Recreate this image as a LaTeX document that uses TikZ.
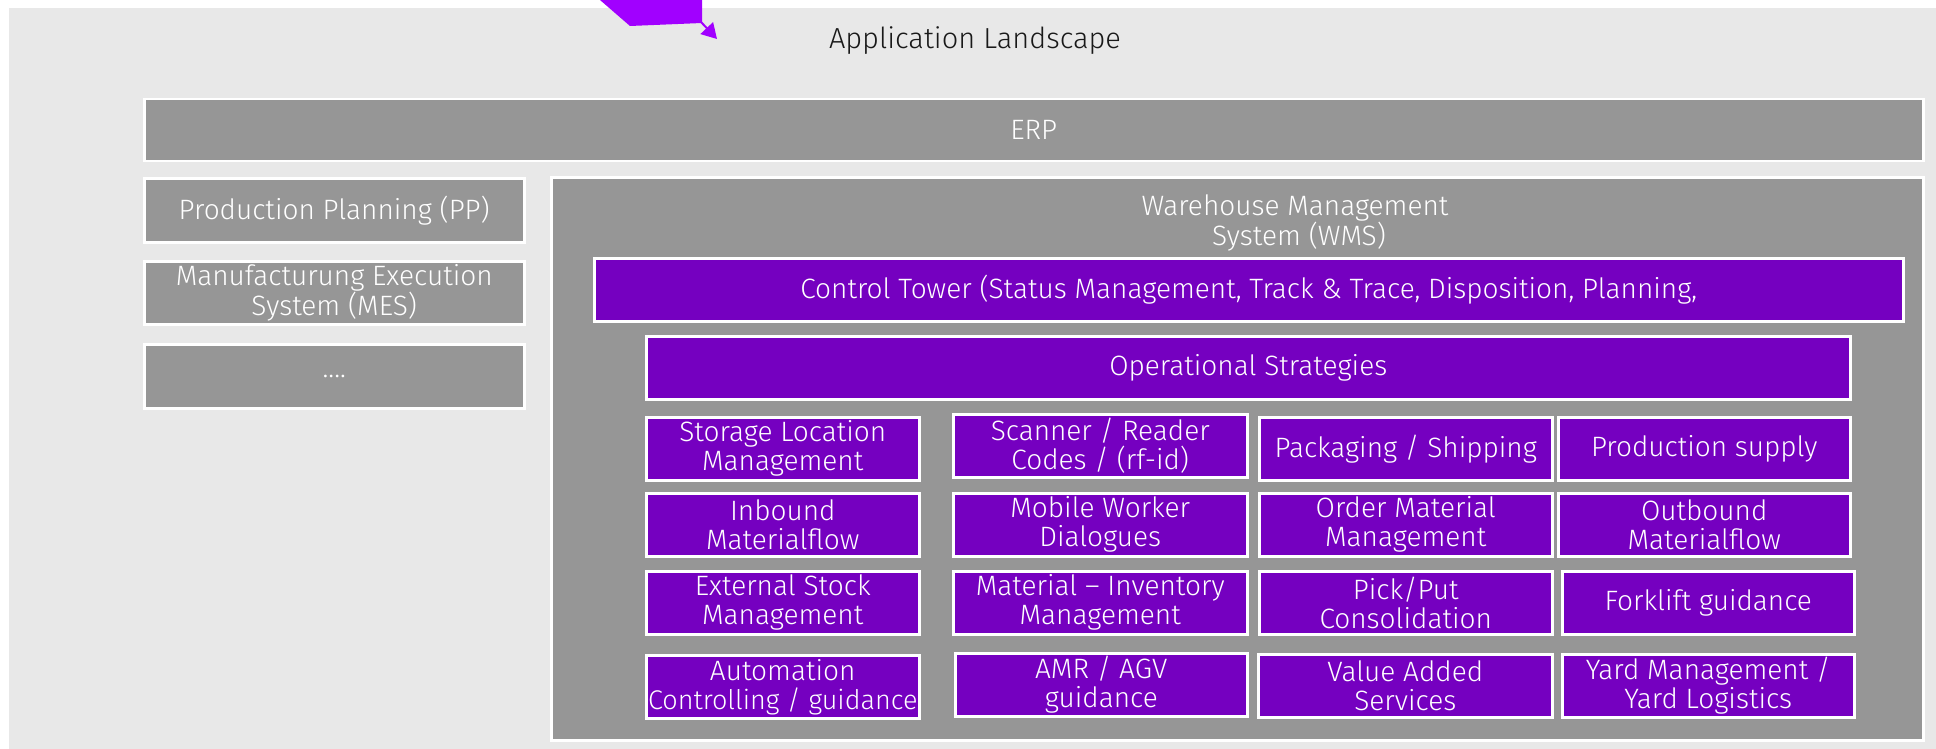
\documentclass[tikz,border=0pt]{standalone}
\usepackage{fontspec}
\setmainfont{Fira Sans Light}
\usetikzlibrary{arrows.meta,positioning}

\definecolor{landscape}{HTML}{E8E8E8}
\definecolor{sysgray}{HTML}{969696}
\definecolor{wmspurple}{HTML}{7500C0}
\definecolor{pointer}{HTML}{A100FF}

\begin{document}
\begin{tikzpicture}[x=1pt,y=-1pt,
  sysbox/.style={rectangle,fill=sysgray,draw=white,line width=2.5pt,
    text=white,align=center,inner sep=0pt,anchor=north west,
    font=\fontsize{28}{29}\selectfont},
  modbox/.style={sysbox,fill=wmspurple,minimum height=63pt},
  caption/.style={text=white,align=center,font=\fontsize{28}{29}\selectfont}]

  \useasboundingbox (0,0) rectangle (1936,749);
  \fill[landscape] (9,8) rectangle (1936,749);

  % pointer coming in from the top
  \fill[pointer] (600,0) -- (630,26) -- (702,23) -- (702,0) -- cycle;
  \coordinate (tail) at (701,22);
  \coordinate (tip) at (717,39);
  \draw[pointer,line width=2pt,-{Triangle[length=15pt,width=17pt]}] (tail) -- (tip);

  \node[text=black!90,font=\fontsize{29}{30}\selectfont] (title) at (975,41) {Application Landscape};

  \node[sysbox,minimum width=1779pt,minimum height=62pt] (erp) at (143,98) {ERP};

  % left column
  \node[sysbox,minimum width=380pt,minimum height=64pt] (pp)   at (143,177) {Production Planning (PP)};
  \node[sysbox,minimum width=380pt,minimum height=63pt] (mes)  at (143,260) {Manufacturung Execution\\System (MES)};
  \node[sysbox,minimum width=380pt,minimum height=64pt] (more) at (143,343) {....};

  % warehouse management
  \node[sysbox,minimum width=1372pt,minimum height=563pt] (wms) at (550,176) {};
  \node[caption] (wmstitle) at (1295,223) {Warehouse Management\\\hspace*{8pt}System (WMS)};
  \node[modbox,minimum width=1309pt] (tower) at (593,257) {Control Tower (Status Management, Track \& Trace, Disposition, Planning,};
  \node[modbox,minimum width=1204pt] (strat) at (645,335) {Operational Strategies};

  \node[modbox,minimum width=273pt] (storage) at (645,416)  {Storage Location\\Management};
  \node[modbox,minimum width=294pt] (scanner) at (952,413)  {Scanner / Reader\\Codes / (rf-id)};
  \node[modbox,minimum width=293pt] (packing) at (1258,416) {Packaging / Shipping};
  \node[modbox,minimum width=292pt] (supply)  at (1557,416) {Production supply};

  \node[modbox,minimum width=273pt] (inbound)  at (645,492)  {Inbound\\Materialflow};
  \node[modbox,minimum width=294pt] (mobile)   at (952,492)  {Mobile Worker\\Dialogues};
  \node[modbox,minimum width=293pt] (order)    at (1258,492) {Order Material\\Management};
  \node[modbox,minimum width=292pt] (outbound) at (1557,492) {Outbound\\Materialflow};

  \node[modbox,minimum width=273pt] (external)  at (645,570)  {External Stock\\Management};
  \node[modbox,minimum width=294pt] (inventory) at (952,570)  {Material -- Inventory\\Management};
  \node[modbox,minimum width=293pt] (pickput)   at (1258,570) {Pick/Put\\Consolidation};
  \node[modbox,minimum width=292pt] (forklift)  at (1561,570) {Forklift guidance};

  \node[modbox,minimum width=273pt] (automation) at (645,654)  {Automation\\\makebox[0pt]{\fontsize{27}{29}\selectfont Controlling / guidance}};
  \node[modbox,minimum width=292pt] (amr)        at (954,652)  {AMR / AGV\\guidance};
  \node[modbox,minimum width=294pt] (vas)        at (1257,653) {Value Added\\Services};
  \node[modbox,minimum width=292pt] (yard)       at (1561,653) {Yard Management /\\Yard Logistics};

\end{tikzpicture}
\end{document}
